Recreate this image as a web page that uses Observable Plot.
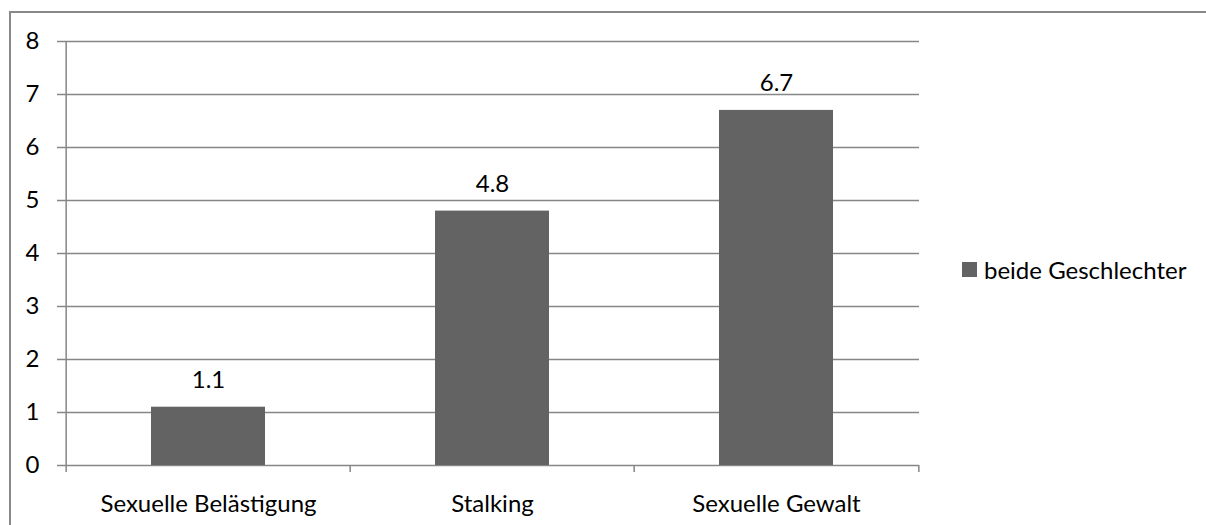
<!DOCTYPE html>
<html><head><meta charset="utf-8">
<script src="https://cdn.jsdelivr.net/npm/d3@7"></script>
<script src="https://cdn.jsdelivr.net/npm/@observablehq/plot@0.6"></script>
<style>
body{margin:0;background:#fff;}
#wrap{position:relative;width:1206px;height:525px;overflow:hidden;font-family:Lato,"Open Sans",sans-serif;}
#border{position:absolute;left:9px;top:11px;width:1300px;height:600px;border-left:2px solid #898989;border-top:2px solid #898989;}
#chart{position:absolute;left:0;top:0;}
#legend{position:absolute;left:962px;top:255px;display:flex;align-items:center;font-size:24px;color:#000;}
#legend .sw{width:15px;height:15px;background:#636363;margin-right:7px;}
</style></head>
<body>
<div id="wrap"><div id="border"></div><div id="chart"></div>
<div id="legend"><div class="sw"></div><span id="legtext"></span></div></div>
<script>
const categories = ["Sexuelle Belästigung", "Stalking", "Sexuelle Gewalt"];
const values = [1.1, 4.8, 6.7];
const yTicks = [0, 1, 2, 3, 4, 5, 6, 7, 8];
const seriesName = "beide Geschlechter";

const data = categories.map((c, i) => ({cat: c, value: values[i]}));
document.getElementById("legtext").textContent = seriesName;

const W = 1206, H = 525, mL = 65, mR = 287, mT = 41, mB = 60;
const half = (W - mL - mR) / categories.length / 2;
const grid = "#868686";

const chart = Plot.plot({
  width: W, height: H,
  marginLeft: mL, marginRight: mR, marginTop: mT, marginBottom: mB,
  style: {fontFamily: "Lato, 'Open Sans', sans-serif", fontSize: "24px", color: "#000", background: "transparent"},
  x: {domain: categories, paddingInner: 0.6, paddingOuter: 0.3, label: null},
  y: {domain: [0, 8], label: null},
  marks: [
    Plot.ruleY(yTicks, {stroke: grid, strokeWidth: 1.5}),
    Plot.barY(data, {x: "cat", y: "value", fill: "#636363"}),
    Plot.text(data, {x: "cat", y: "value", text: d => d.value.toFixed(1), dy: -27, fill: "#000"}),
    Plot.ruleX([categories[0]], {x: d => d, y1: () => -0.13, y2: () => 8, dx: -half, stroke: grid, strokeWidth: 1.5}),
    Plot.ruleX(categories.slice(1), {x: d => d, y1: () => -0.13, y2: () => 0, dx: -half, stroke: grid, strokeWidth: 1.5}),
    Plot.ruleX(categories.slice(-1), {x: d => d, y1: () => -0.13, y2: () => 0, dx: half, stroke: grid, strokeWidth: 1.5}),
    Plot.axisY({ticks: yTicks, tickSize: 8, tickPadding: 18, tickFormat: d => d, stroke: grid, strokeWidth: 1.5, strokeOpacity: 1, label: null}),
    Plot.axisX({tickSize: 0, tickPadding: 29, label: null})
  ]
});
document.getElementById("chart").appendChild(chart);
</script>
</body></html>
